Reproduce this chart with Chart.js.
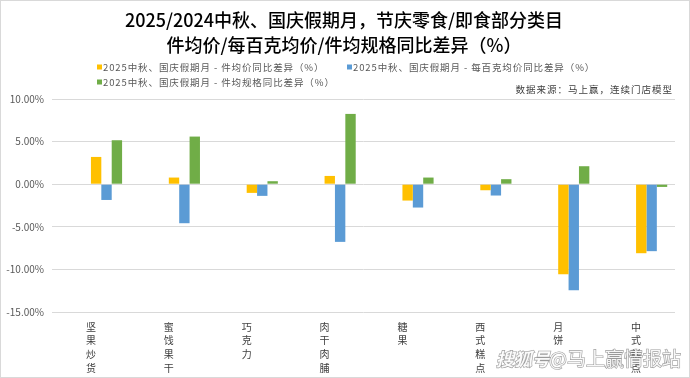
<!DOCTYPE html>
<html>
<head>
<meta charset="utf-8">
<script src="https://cdn.jsdelivr.net/npm/chart.js@4.4.1/dist/chart.umd.min.js"></script>
<style>
html,body{margin:0;padding:0;background:#fff;}
canvas{display:block;}
</style>
</head>
<body>
<canvas id="c" width="690" height="378"></canvas>
<script>
const titleLines = ['2025/2024中秋、国庆假期月，节庆零食/即食部分类目', '件均价/每百克均价/件均规格同比差异（%）'];
const sourceText = '数据来源：马上赢，连续门店模型';
const categories = ['坚果炒货', '蜜饯果干', '巧克力', '肉干肉脯', '糖果', '西式糕点', '月饼', '中式糕点'];
const seriesNames = [
  '2025中秋、国庆假期月 - 件均价同比差异（%）',
  '2025中秋、国庆假期月 - 每百克均价同比差异（%）',
  '2025中秋、国庆假期月 - 件均规格同比差异（%）'
];
const priceYoY = [3.20, 0.78, -1.02, 0.97, -1.92, -0.71, -10.56, -8.10];
const per100gYoY = [-1.85, -4.58, -1.37, -6.77, -2.74, -1.33, -12.44, -7.86];
const specYoY = [5.16, 5.59, 0.35, 8.25, 0.78, 0.59, 2.11, -0.32];
const yTicks = [10, 5, 0, -5, -10, -15];
const colors = ['#FFC000', '#5B9BD5', '#70AD47'];

const FONT = '"Noto Sans CJK SC", "Noto Sans", sans-serif';

const decor = {
  id: 'decor',
  afterDraw(chart) {
    const ctx = chart.ctx;
    ctx.save();
    // title
    ctx.fillStyle = '#000';
    ctx.textAlign = 'center';
    ctx.textBaseline = 'middle';
    ctx.font = '500 18px ' + FONT;
    ctx.fillText(titleLines[0], 344, 20);
    ctx.fillText(titleLines[1], 344, 45);
    // legend
    const items = chart.data.datasets.filter(d => d.label);
    const pos = [[97, 67], [347, 67], [97, 82]];
    ctx.font = '9.5px ' + FONT;
    ctx.letterSpacing = '0.9px';
    ctx.textAlign = 'left';
    items.forEach((d, i) => {
      const [x, y] = pos[i];
      ctx.fillStyle = d.backgroundColor;
      ctx.fillRect(x, y - 2.5, 5, 5);
      ctx.fillStyle = '#595959';
      ctx.fillText(d.label, x + 6, y + 0.5);
    });
    // source
    ctx.textAlign = 'right';
    ctx.fillStyle = '#404040';
    ctx.font = '9.5px ' + FONT;
    ctx.letterSpacing = '1px';
    ctx.fillText(sourceText, 673, 89);
    ctx.letterSpacing = '0px';
    // watermark
    ctx.textAlign = 'left';
    ctx.font = 'italic bold 18px ' + FONT;
    ctx.lineWidth = 1.2;
    ctx.strokeStyle = 'rgba(120,120,120,0.75)';
    ctx.fillStyle = 'rgba(255,255,255,0.9)';
    ctx.strokeText('搜狐号', 496, 359);
    ctx.fillText('搜狐号', 496, 359);
    ctx.font = '19px ' + FONT;
    ctx.strokeText('@马上赢情报站', 549, 359);
    ctx.fillText('@马上赢情报站', 549, 359);
    // border
    ctx.strokeStyle = '#d9d9d9';
    ctx.lineWidth = 1;
    ctx.strokeRect(0.5, 0.5, 689, 377);
    ctx.restore();
  }
};

new Chart(document.getElementById('c'), {
  type: 'bar',
  data: {
    labels: categories.map(s => s.split('')),
    datasets: [
      { label: '', data: [] },
      { label: '', data: [] },
      { label: '', data: [] },
      { label: seriesNames[0], data: priceYoY, backgroundColor: colors[0] },
      { label: seriesNames[1], data: per100gYoY, backgroundColor: colors[1] },
      { label: seriesNames[2], data: specYoY, backgroundColor: colors[2] }
    ]
  },
  options: {
    responsive: false,
    animation: false,
    devicePixelRatio: 1,
    layout: { padding: { top: 99, right: 15, bottom: 2, left: 0 } },
    datasets: { bar: { categoryPercentage: 0.8, barPercentage: 1.0, borderWidth: 0 } },
    plugins: {
      legend: { display: false },
      title: { display: false },
      tooltip: { enabled: false }
    },
    scales: {
      x: {
        afterFit(s) { s.height = 64; },
        grid: { display: false, drawTicks: false },
        border: { display: false },
        ticks: {
          color: '#404040',
          font: { family: FONT, size: 10, lineHeight: 1.37 },
          padding: 8,
          maxRotation: 0,
          autoSkip: false
        }
      },
      y: {
        min: -15, max: 10,
        afterFit(s) { s.width = 52; },
        afterBuildTicks(s) { s.ticks = yTicks.map(v => ({ value: v })); },
        grid: { color: '#d9d9d9', drawTicks: false, lineWidth: 1 },
        border: { display: false },
        ticks: {
          color: '#595959',
          font: { family: FONT, size: 10 },
          padding: 8,
          callback: v => v.toFixed(2) + '%'
        }
      }
    }
  },
  plugins: [decor]
});
</script>
</body>
</html>
